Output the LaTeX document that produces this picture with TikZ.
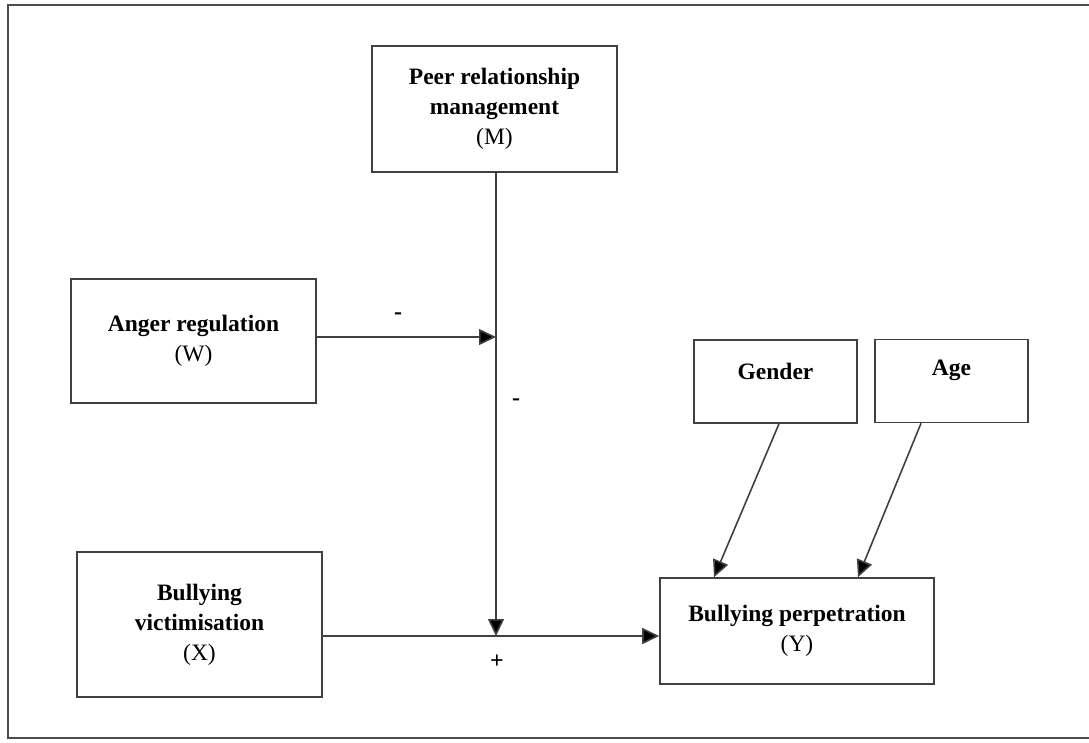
\documentclass[tikz,border=0pt]{standalone}
\usepackage{fontspec}
\setmainfont{Liberation Serif}
\usetikzlibrary{positioning,arrows.meta}

\begin{document}
\begin{tikzpicture}[
  x=1pt, y=-1pt,
  font=\fontsize{23.5}{30}\selectfont,
  box/.style={draw=black!75, line width=1.6pt, align=center, inner sep=0pt},
  covbox/.style={box, label={[yshift=10.5pt, font=\fontsize{23.5}{30}\selectfont\bfseries]center:#1}},
  conn/.style={draw=black!75, line width=1.6pt},
  sign/.style={font=\fontsize{24}{26}\selectfont\bfseries},
  >={Triangle[length=17pt,width=16pt,fill=black]},
]
  \useasboundingbox (0,0) rectangle (1089,742);
  \draw[black!70, line width=1.6pt] (1100,5) -- (8,5) -- (8,738) -- (1100,738);

  \node[box, minimum width=245pt, minimum height=126pt] (peer) at (494.5,109)
    {\textbf{Peer relationship}\\ \textbf{management}\\ (M)};
  \node[box, minimum width=245pt, minimum height=124pt] (anger) at (193.5,341)
    {\textbf{Anger regulation}\\ (W)};
  \node[box, minimum width=245pt, minimum height=145pt] (vict) at (199.5,624.5)
    {\textbf{Bullying}\\ \textbf{victimisation}\\ (X)};
  \node[covbox=Gender, minimum width=163pt, minimum height=83pt] (gender) at (775.5,381.5) {};
  \node[covbox=Age, minimum width=153pt, minimum height=83pt] (age) at (951.5,381) {};
  \node[box, minimum width=274pt, minimum height=106pt] (perp) at (797,631)
    {\textbf{Bullying perpetration}\\ (Y)};

  % moderation points on the paths
  \coordinate (wm) at (496,337);
  \coordinate (xy) at (496,636);

  \draw[conn, ->] (peer.south -| xy) -- (xy);
  \draw[conn, ->] (anger.east |- wm) -- (wm);
  \draw[conn, ->] (vict.east |- xy) -- (perp.west |- xy);
  \draw[conn, ->] ([xshift=3.5pt]gender.south) -- ([xshift=-83pt]perp.north);
  \draw[conn, ->] ([xshift=-30.5pt]age.south) -- ([xshift=61pt]perp.north);

  \node[sign] (s1) at (398,316) {-};
  \node[sign] (s2) at (516,402) {-};
  \node[sign] (s3) at (497,662) {+};
\end{tikzpicture}
\end{document}
